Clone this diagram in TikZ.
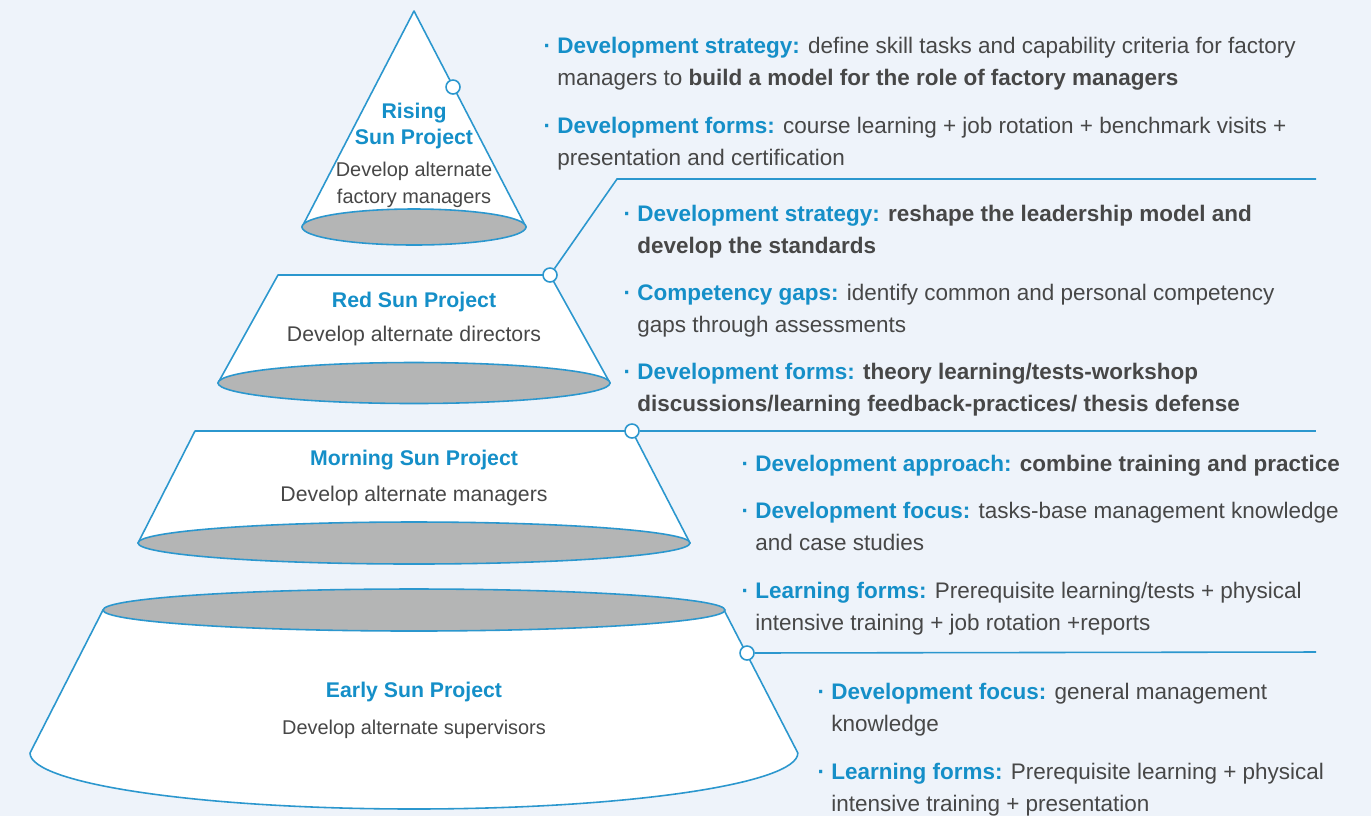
\documentclass[tikz,border=0pt]{standalone}
\usepackage{fontspec}
\setmainfont{Liberation Sans}
\definecolor{sunBg}{HTML}{EEF3FA}
\definecolor{sunLine}{HTML}{2B97CE}
\definecolor{sunBlue}{HTML}{158FC8}
\definecolor{sunInk}{HTML}{474747}
\definecolor{sunGray}{HTML}{B4B5B5}
\newcommand\itemfont{\fontsize{12.8}{18.2}\selectfont}
\newcommand\conefont{\fontsize{12.1}{15.2}\selectfont}
\newcommand\smallcone{\fontsize{11.35}{15}\selectfont}
\newcommand\lbl[1]{\llap{\textcolor{sunBlue}{\textbf{·}}\ }\textcolor{sunBlue}{\textbf{#1}}}
\tikzset{
  shell/.style ={draw=sunLine,line width=0.9pt,fill=white,line join=round},
  rim/.style   ={draw=sunLine,line width=0.9pt,fill=sunGray},
  link/.style  ={draw=sunLine,line width=0.9pt},
  dot/.style   ={circle,draw=sunLine,line width=0.9pt,fill=white,
                 minimum size=0.28cm,inner sep=0pt},
  ptitle/.style={font=\conefont\bfseries,text=sunBlue,align=center,inner sep=0pt},
  psub/.style  ={font=\conefont,text=sunInk,align=center,inner sep=0pt},
  item/.style  ={anchor=north west,align=left,inner sep=0pt,font=\itemfont,text=sunInk},
}
\begin{document}
\begin{tikzpicture}[x=0.02cm,y=-0.02cm]
\path[use as bounding box,fill=sunBg] (0,0) rectangle (1371,816);

% cones
\draw[shell] (414,11) -- (302,227) -- (526,227) -- cycle;
\draw[rim] (414,227) ellipse [x radius=112, y radius=18];
\draw[shell] (278,275) -- (550,275) -- (610,383) -- (218,383) -- cycle;
\draw[rim] (414,383) ellipse [x radius=196, y radius=20.5];
\draw[shell] (195,431) -- (632,431) -- (690,543) -- (138,543) -- cycle;
\draw[rim] (414,543) ellipse [x radius=276, y radius=21];
\draw[shell] (103,610) -- (30,753)
  arc[start angle=180,end angle=360,x radius=7.68cm,y radius=1.12cm] -- (724,610) -- cycle;
\draw[rim] (414,610) ellipse [x radius=311, y radius=21];

% dots and leaders
\node[dot] (sdot) at (453,87) {};
\node[dot] (rdot) at (550,275) {};
\node[dot] (mdot) at (632,431) {};
\node[dot] (edot) at (747,653) {};
\coordinate (rbend) at (617,179);
\coordinate (rend) at (1316,179);
\coordinate (mend) at (1316,431);
\coordinate (eend) at (1316,652);
\draw[link] (rdot) -- (rbend) -- (rend);
\draw[link] (mdot) -- (mend);
\draw[link] (edot) -- (eend);

% cone labels
\node[ptitle] (stitle) at (414,126) {Rising\\Sun Project};
\node[psub,font=\smallcone] (ssub) at (414,185) {Develop alternate\\factory managers};
\node[ptitle,anchor=base] (rtitle) at (414,307) {Red Sun Project};
\node[psub,anchor=base]   (rsub)   at (414,341) {Develop alternate directors};
\node[ptitle,anchor=base] (mtitle) at (414,465) {Morning Sun Project};
\node[psub,anchor=base]   (msub)   at (414,501) {Develop alternate managers};
\node[ptitle,anchor=base] (etitle) at (414,697) {Early Sun Project};
\node[psub,anchor=base,font=\smallcone] (esub) at (414,734) {Develop alternate supervisors};

% rising sun items
\node[item] (s1) at (557,37) {\lbl{Development strategy:} define skill tasks and capability criteria for factory\\
  managers to \textbf{build a model for the role of factory managers}};
\node[item] (s2) at (557,117) {\lbl{Development forms:} course learning + job rotation + benchmark visits +\\
  presentation and certification};

% red sun items
\node[item] (r1) at (637,205) {\lbl{Development strategy:} \textbf{reshape the leadership model and}\\
  \textbf{develop the standards}};
\node[item] (r2) at (637,284) {\lbl{Competency gaps:} identify common and personal competency\\
  gaps through assessments};
\node[item] (r3) at (637,363) {\lbl{Development forms:} \textbf{theory learning/tests-workshop}\\
  \textbf{discussions/learning feedback-practices/ thesis defense}};

% morning sun items
\node[item] (m1) at (755,455) {\lbl{Development approach:} \textbf{combine training and practice}};
\node[item] (m2) at (755,502) {\lbl{Development focus:} tasks-base management knowledge\\
  and case studies};
\node[item] (m3) at (755,582) {\lbl{Learning forms:} Prerequisite learning/tests + physical\\
  intensive training + job rotation +reports};

% early sun items
\node[item] (e1) at (831,683) {\lbl{Development focus:} general management\\
  knowledge};
\node[item] (e2) at (831,763) {\lbl{Learning forms:} Prerequisite learning + physical\\
  intensive training + presentation};
\end{tikzpicture}
\end{document}
